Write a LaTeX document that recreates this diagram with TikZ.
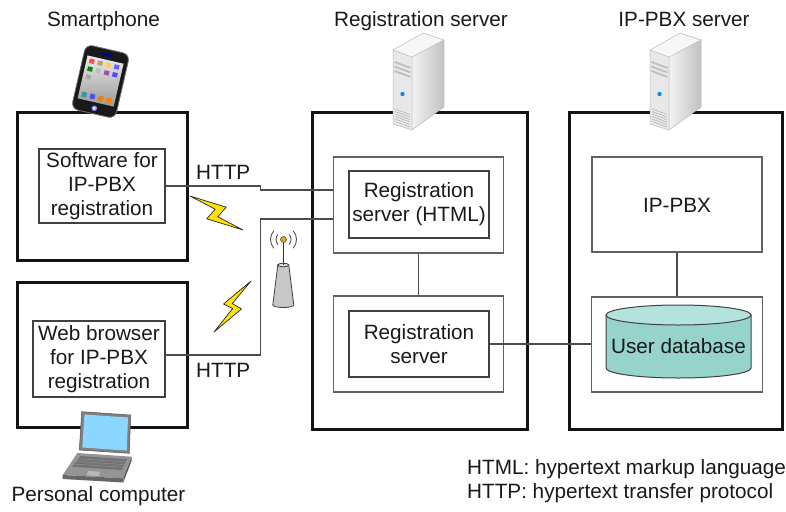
\documentclass[tikz,border=0pt]{standalone}
\usepackage{fontspec}
\setmainfont{Liberation Sans}
\usetikzlibrary{calc}
\definecolor{dbside}{RGB}{150,212,203}
\definecolor{dbtop}{RGB}{180,226,220}
\begin{document}
\begin{tikzpicture}[x=1pt,y=-1pt,
  txt/.style={font=\fontsize{20.7}{23.8}\selectfont, text=black!90, inner sep=0pt},
  host/.style={draw=black!92, line width=3pt, inner sep=0pt},
  frame/.style={draw=black!62, line width=1.1pt, inner sep=0pt},
  unit/.style={draw=black!75, line width=1.1pt, inner sep=0pt, align=center,
    font=\fontsize{20.7}{23.8}\selectfont, text=black!90},
  conn/.style={draw=black!70, line width=1.1pt},
  bolt/.style={fill=yellow!85!orange, draw=black!85, line width=0.7pt, line join=round},
  server/.pic={
    % top, front and side faces of a tower case
    \fill[black!3] (0,0) -- (30,-17) -- (51,-10) -- (19,7) -- cycle;
    \fill[black!9] (0,0) -- (19,7) -- (19,80) -- (0,74) -- cycle;
    \shade[left color=black!5, right color=black!24] (19,7) -- (51,-10) -- (51,57) -- (19,80) -- cycle;
    \foreach \s in {12,16.5,21} \draw[black!25, line width=1.8pt] (1.5,\s) -- (17.5,\s+5.9);
    \fill[cyan!75!blue] (9.5,44) circle[radius=2.2pt];
    \foreach \s in {59,61.5,...,71.5} \draw[black!32, line width=0.5pt] (2,\s) -- (17,\s+5.5);
    \draw[black!28, line width=0.5pt, line join=round] (0,0) -- (30,-17) -- (51,-10) -- (51,57) -- (19,80) -- (0,74) -- cycle;
    \draw[black!28, line width=0.5pt] (0,0) -- (19,7) -- (51,-10) (19,7) -- (19,80);
  }
]
\useasboundingbox (0,0) rectangle (786,511);

% headings
\node[txt, anchor=base] (hphone) at (103.5,27) {Smartphone};
\node[txt, anchor=base] (hreg) at (421,27) {Registration server};
\node[txt, anchor=base] (hpbx) at (684,27) {IP-PBX server};
\node[txt, anchor=base] (hpc) at (98.5,501) {Personal computer};
\node[txt, anchor=base west] (n1) at (467,474) {HTML: hypertext markup language};
\node[txt, anchor=base west] (n2) at (467,498) {HTTP: hypertext transfer protocol};

% terminals
\node[host, minimum width=170pt, minimum height=148pt] (phonebox) at (102,186) {};
\node[host, minimum width=170pt, minimum height=145pt] (pcbox) at (102,354.5) {};
\node[unit, minimum width=126pt, minimum height=74pt] (sw) at (102,186) {Software for\\IP-PBX\\registration};
\node[unit, minimum width=132pt, minimum height=76pt] (wb) at (99,359) {Web browser\\for IP-PBX\\registration};

% registration server
\node[host, minimum width=215pt, minimum height=317pt] (regbox) at (419.5,270.5) {};
\node[frame, minimum width=170pt, minimum height=96pt] (gray1) at (418.5,205) {};
\node[unit, minimum width=140pt, minimum height=67pt] (rh) at (419,204.5) {Registration\\server (HTML)};
\node[frame, minimum width=170pt, minimum height=96pt] (gray2) at (418.5,344) {};
\node[unit, minimum width=140pt, minimum height=66pt] (rs) at (419,344) {Registration\\server};

% IP-PBX server
\node[host, minimum width=213pt, minimum height=317pt] (pbxbox) at (675.5,270.5) {};
\node[frame, minimum width=170pt, minimum height=95pt] (pbx) at (677,204.5) {};
\node[txt] (pbxlbl) at (677,205) {IP-PBX};
\node[frame, minimum width=171pt, minimum height=95pt] (dbbox) at (677,344.5) {};

% user database cylinder
\draw[fill=dbside, draw=black!75, line width=1pt]
  (606,315) -- (606,368) arc[start angle=180, end angle=360, x radius=72.5pt, y radius=10pt] -- (751,315);
\draw[fill=dbtop, draw=black!75, line width=1pt] (678.5,315) ellipse[x radius=72.5pt, y radius=10pt];
\node[txt] (db) at (678.5,346) {User database};

% connectors
\coordinate (j1) at (260.7,186);
\coordinate (j2) at (260.7,190);
\coordinate (j3) at (260.7,355);
\coordinate (j4) at (260.7,219);
\draw[conn] (sw.east) -- (j1) -- (j2) -- (gray1.west |- j2);
\draw[conn] ([yshift=4pt]wb.east) -- (j3) -- (j4) -- (gray1.west |- j4);
\draw[conn] (gray1.south) -- (gray2.north);
\draw[conn] (rs.east) -- (dbbox.west |- rs.east);
\draw[conn] (pbx.south) -- (dbbox.north);
\node[txt, anchor=base west] (http1) at (196,179) {HTTP};
\node[txt, anchor=base west] (http2) at (196,377) {HTTP};

% radio links
\draw[bolt] (190,196) -- (226.2,207.2) -- (217.8,216.8) -- (243,230) -- (206.8,218.8) -- (215.2,209.2) -- cycle;
\draw[bolt] (251,281) -- (223.5,304) -- (232.7,308.5) -- (214,332) -- (241.5,309) -- (232.3,303.5) -- cycle;

% wireless access point
\draw[fill=black!22, draw=black!75, line width=0.8pt]
  (277.8,265) -- (272.8,305) arc[start angle=180, end angle=360, x radius=10.5pt, y radius=2.5pt] -- (288.8,265) -- cycle;
\draw[fill=black!12, draw=black!75, line width=0.8pt] (283.3,265) ellipse[x radius=5.5pt, y radius=1.8pt];
\draw[black!80, line width=1pt] (283.3,265) -- (283.3,242);
\draw[fill=orange!75!yellow, draw=black!70, line width=0.6pt] (283.5,239.5) circle[radius=3pt];
\foreach \r in {7.5,13} {
  \draw[black!70, line width=0.9pt] (283.5,239.5) ++(-42:\r pt) arc[start angle=-42, end angle=42, radius=\r pt];
  \draw[black!70, line width=0.9pt] (283.5,239.5) ++(138:\r pt) arc[start angle=138, end angle=222, radius=\r pt];
}

% servers
\pic at (393,50) {server};
\pic at (650,50) {server};

% smartphone
\begin{scope}[shift={(100.5,81.5)}, rotate=-13]
  \fill[black!90, rounded corners=7pt] (-22.5,-33) rectangle (22.5,33);
  \draw[black!55, line width=0.8pt, rounded corners=7pt] (-22.5,-33) rectangle (22.5,33);
  \fill[blue!65!black, rounded corners=0.8pt] (-5.5,-28.5) rectangle (5.5,-26.3);
  \shade[top color=black!8, bottom color=black!40] (-18.5,-22.5) rectangle (18.5,21.5);
  \foreach \c [count=\i from 0] in {red!70,brown!80,yellow!40!orange!60,blue!60} \fill[\c] (-15.5+\i*8.5,-20) rectangle ++(5,4.5);
  \foreach \c [count=\i from 0] in {green!55!black,black!25,violet!70,blue!70} \fill[\c] (-15.5+\i*8.5,-12) rectangle ++(5,4.5);
  \fill[black!35] (-15.5,-4) rectangle ++(5,4.5);
  \foreach \c [count=\i from 0] in {teal!80,blue!70,orange!60!brown,orange} \fill[\c] (-15.5+\i*8.5,14) rectangle ++(5,5);
  \fill[blue!45!white] (0,27.5) circle[radius=2.8pt];
  \fill[white] (-1,26.5) rectangle (1,28.5);
\end{scope}

% laptop
\fill[black!50] (81.7,411.7) -- (130.7,415) -- (129.3,453.3) -- (79.3,450) -- cycle;
\fill[blue!35!cyan!45!white] (84.5,414.5) -- (128,417.5) -- (126.8,450.5) -- (82.3,447.5) -- cycle;
\fill[black!42] (77.3,453) -- (131.7,456.7) -- (123.3,478.3) -- (62.7,475) -- cycle;
\fill[black!60] (62.7,475) -- (123.3,478.3) -- (123.3,482.5) -- (62.7,479) -- cycle;
\fill[black!66] (131.7,456.7) -- (131.7,460.5) -- (123.3,482.5) -- (123.3,478.3) -- cycle;
\fill[black!55] (80.5,456) -- (127,459.2) -- (121.5,470) -- (72,466.8) -- cycle;
\foreach \t in {0.25,0.5,0.75} \draw[black!42, line width=0.4pt] ($(80.5,456)!\t!(72,466.8)$) -- ($(127,459.2)!\t!(121.5,470)$);
\fill[black!28] (88,471) -- (100,471.7) -- (99,476) -- (86.5,475.3) -- cycle;
\draw[black!68, line width=0.5pt] (81.7,411.7) -- (130.7,415) -- (129.3,453.3) -- (79.3,450) -- cycle;
\end{tikzpicture}
\end{document}
